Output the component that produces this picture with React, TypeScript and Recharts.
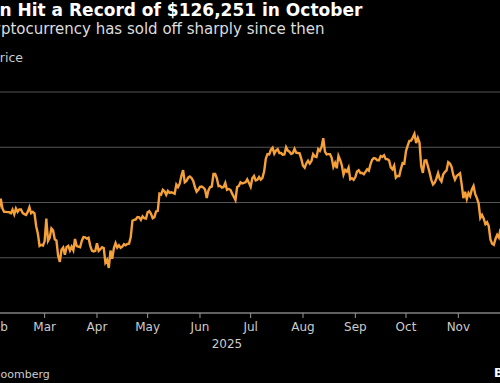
import React from "react";
import { LineChart, Line, XAxis, YAxis, CartesianGrid } from "recharts";

// daily closes, $ thousands
const MONTH_LABELS = ["Jan", "Feb", "Mar", "Apr", "May", "Jun", "Jul", "Aug", "Sep", "Oct", "Nov", "Dec"];
const MONTH_START = [0, 31, 59, 90, 120, 151, 181, 212, 243, 273, 304, 334];
const X_TICKS = MONTH_START.slice(1, 11); // Feb..Nov

const jan = [94.4, 96.9, 98.1, 98.2, 98.3, 102.1, 96.9, 95.0, 92.5, 94.7, 94.5, 94.5, 94.5, 96.5, 100.5, 99.8, 104.4, 104.4, 101.1, 102.0, 106.1, 103.7, 104.0, 104.7, 104.8, 102.6, 102.0, 101.3, 103.7, 104.7, 102.4];
const feb = [100.6, 97.7, 101.4, 97.9, 96.6, 96.6, 96.5, 96.5, 96.1, 97.4, 95.7, 97.8, 96.6, 97.5, 97.5, 96.2, 95.8, 95.5, 96.6, 98.3, 96.1, 96.6, 96.1, 91.4, 88.7, 84.3, 84.7, 84.4];
const mar = [86.0, 94.2, 86.1, 87.2, 90.6, 89.9, 86.7, 86.2, 80.7, 78.5, 82.9, 83.7, 81.1, 83.9, 84.3, 82.6, 84.0, 82.7, 86.8, 84.2, 84.0, 83.8, 86.1, 87.5, 87.4, 86.9, 87.2, 84.4, 82.6, 82.3, 82.5];
const apr = [85.2, 82.5, 83.1, 83.8, 83.5, 78.2, 79.2, 76.3, 82.6, 79.6, 83.4, 85.3, 83.7, 84.5, 83.6, 84.0, 84.9, 84.5, 85.0, 85.1, 87.5, 93.4, 93.7, 93.9, 94.7, 94.6, 93.7, 95.0, 94.3, 94.2];
const may = [96.5, 96.9, 95.9, 94.3, 94.7, 96.8, 97.0, 103.2, 102.9, 104.6, 104.1, 102.8, 104.2, 103.5, 103.7, 103.5, 103.2, 106.5, 105.6, 106.8, 109.7, 111.7, 107.3, 107.8, 109.0, 109.4, 108.9, 107.8, 105.6, 103.9, 104.6];
const jun = [105.7, 105.8, 105.4, 104.7, 101.6, 104.4, 105.6, 105.8, 110.3, 110.3, 108.7, 105.9, 106.0, 105.4, 105.6, 107.1, 104.6, 104.9, 104.6, 103.3, 102.1, 100.9, 105.6, 106.0, 107.3, 106.9, 107.1, 107.3, 108.4, 107.1];
const jul = [105.7, 108.8, 109.6, 108.0, 108.2, 109.2, 108.3, 108.9, 111.3, 115.9, 117.5, 117.4, 119.1, 119.8, 117.7, 118.8, 119.3, 117.9, 117.9, 117.3, 117.4, 120.0, 118.8, 118.4, 117.6, 117.9, 119.4, 118.0, 117.9, 117.8, 115.8];
const aug = [113.3, 112.6, 114.2, 115.1, 114.1, 115.0, 117.5, 116.7, 116.5, 119.3, 118.7, 120.1, 123.3, 118.4, 117.4, 117.5, 117.5, 116.2, 112.9, 114.3, 112.4, 116.9, 115.4, 113.5, 110.1, 111.8, 111.2, 112.6, 108.4, 108.8, 108.2];
const sep = [109.2, 111.2, 111.7, 110.7, 110.7, 110.2, 111.1, 112.0, 111.5, 113.9, 115.5, 116.1, 115.9, 115.3, 115.3, 116.8, 116.5, 117.1, 115.7, 115.7, 115.2, 112.7, 112.0, 113.3, 109.0, 109.6, 109.6, 112.2, 114.3, 114.1];
const oct = [118.6, 120.6, 122.3, 122.4, 123.5, 124.8, 121.5, 123.4, 121.7, 113.2, 110.7, 115.2, 115.3, 113.1, 110.8, 108.2, 106.5, 107.2, 108.7, 110.6, 108.5, 107.6, 110.1, 111.0, 111.6, 114.6, 114.1, 112.9, 110.0, 108.3, 109.6];
const nov = [110.1, 110.6, 106.5, 101.6, 103.9, 101.3, 103.4, 102.3, 104.7, 106.0, 103.0, 101.6, 99.7, 94.4, 95.5, 94.2, 92.2, 92.9, 91.5, 86.6, 85.1, 84.7, 86.8, 88.3, 87.3, 90.5];

const Y_TICKS = [60, 80, 100, 120, 140];

const months = [jan, feb, mar, apr, may, jun, jul, aug, sep, oct, nov];
const data = months.flatMap((vals, m) =>
  vals.map((price, i) => ({ day: MONTH_START[m] + i, price }))
);

const FONT = "'DejaVu Sans', Verdana, sans-serif";

export default function App() {
  return (
    <div
      style={{
        position: "absolute",
        left: 0,
        top: 0,
        width: 500,
        height: 383,
        background: "#000",
        overflow: "hidden",
        fontFamily: FONT,
      }}
    >
      <div style={{ position: "absolute", left: -55, top: 2, fontSize: 17, lineHeight: 1, fontWeight: "bold", color: "#fff", whiteSpace: "nowrap" }}>
        Bitcoin Hit a Record of $126,251 in October
      </div>
      <div style={{ position: "absolute", left: -55, top: 22, fontSize: 15, lineHeight: 1, color: "#ddd", whiteSpace: "nowrap" }}>
        The cryptocurrency has sold off sharply since then
      </div>
      <div style={{ position: "absolute", left: -55, top: 52, fontSize: 12.5, lineHeight: 1, color: "#ccc", whiteSpace: "nowrap" }}>
        Bitcoin price
      </div>

      <div style={{ position: "absolute", left: -55, top: 82 }}>
        <LineChart width={634} height={276} data={data} margin={{ top: 10, right: 10, bottom: 0, left: 0 }}>
          <CartesianGrid vertical={false} stroke="#555" />
          <XAxis
            dataKey="day"
            type="number"
            domain={[0, 334]}
            ticks={X_TICKS}
            tickFormatter={(d: number) => MONTH_LABELS[MONTH_START.indexOf(d)]}
            height={45}
            tickSize={5}
            tickMargin={4}
            axisLine={{ stroke: "#999" }}
            tickLine={{ stroke: "#999" }}
            tick={{ fill: "#ccc", fontSize: 12, fontFamily: FONT }}
            label={{ value: "2025", position: "insideBottom", offset: 10, fill: "#ccc", fontSize: 12, fontFamily: FONT }}
          />
          <YAxis
            orientation="right"
            width={60}
            domain={[60, 140]}
            ticks={Y_TICKS}
            axisLine={false}
            tickLine={false}
            tickFormatter={(v: number) => `$${v}K`}
            tick={{ fill: "#ccc", fontSize: 12, fontFamily: FONT }}
          />
          <Line
            type="linear"
            dataKey="price"
            stroke="#f5a038"
            strokeWidth={2.4}
            dot={false}
            isAnimationActive={false}
          />
        </LineChart>
      </div>

      <div style={{ position: "absolute", left: -55, top: 369, fontSize: 11, lineHeight: 1, color: "#ccc", whiteSpace: "nowrap" }}>
        Source: Bloomberg
      </div>
      <div style={{ position: "absolute", left: 494, top: 367, fontSize: 12, lineHeight: 1, fontWeight: "bold", color: "#fff", whiteSpace: "nowrap" }}>
        Bloomberg
      </div>
    </div>
  );
}
